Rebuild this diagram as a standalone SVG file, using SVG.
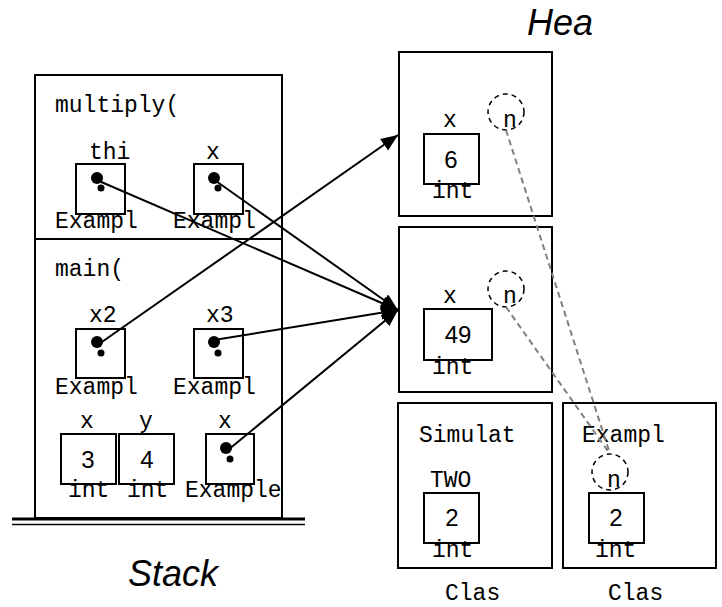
<svg xmlns="http://www.w3.org/2000/svg" width="722" height="607" viewBox="0 0 722 607">
<style>
.box{fill:none;stroke:#000;stroke-width:2}
.mono{font-family:"Liberation Mono","Courier New",monospace;font-size:23px;fill:#000}
.num{font-family:"Liberation Sans",Arial,sans-serif;font-size:24px;fill:#000;text-anchor:middle}
.title{font-family:"Liberation Sans",Arial,sans-serif;font-size:36px;font-style:italic;fill:#000}
.ptr{stroke:#000;stroke-width:2;fill:none;marker-end:url(#ah)}
.ref{stroke:#808080;stroke-width:2;stroke-dasharray:6,4;fill:none}
.circ{fill:none;stroke:#000;stroke-width:1.5;stroke-dasharray:5,4}
</style>
<defs>
<marker id="ah" markerUnits="userSpaceOnUse" markerWidth="18" markerHeight="14" refX="17" refY="7" orient="auto">
<path d="M0,0 L17,7 L0,14 Z" fill="#000"/>
</marker>
</defs>
<rect width="722" height="607" fill="#fff"/>

<g id="stack">
<rect class="box" x="35" y="75" width="247" height="443"/>
<line x1="35" y1="239" x2="282" y2="239" stroke="#000" stroke-width="2"/>
<line x1="12" y1="519" x2="305" y2="519" stroke="#000" stroke-width="3"/>
<line x1="12" y1="524.5" x2="305" y2="524.5" stroke="#000" stroke-width="1.5"/>
<text class="title" x="128" y="586">Stack</text>
</g>

<g id="frame-multiply">
<text class="mono" x="55" y="112">multiply(</text>
</g>
<g id="var-thi">
<text class="mono" x="89" y="159">thi</text>
<rect class="box" x="76" y="164" width="49" height="50"/>
<circle cx="97" cy="178" r="6"/>
<circle cx="101" cy="188" r="3.5"/>
<text class="mono" x="55" y="228">Exampl</text>
</g>
<g id="var-mx">
<text class="mono" x="206" y="159">x</text>
<rect class="box" x="194" y="164" width="49" height="50"/>
<circle cx="214" cy="178" r="6"/>
<circle cx="218" cy="188" r="3.5"/>
<text class="mono" x="173" y="228">Exampl</text>
</g>

<g id="frame-main">
<text class="mono" x="55" y="276">main(</text>
</g>
<g id="var-x2">
<text class="mono" x="89" y="322">x2</text>
<rect class="box" x="76" y="329" width="49" height="49"/>
<circle cx="97" cy="342" r="6"/>
<circle cx="101" cy="353" r="3.5"/>
<text class="mono" x="55" y="394">Exampl</text>
</g>
<g id="var-x3">
<text class="mono" x="206" y="322">x3</text>
<rect class="box" x="194" y="329" width="49" height="49"/>
<circle cx="214" cy="342" r="6"/>
<circle cx="218" cy="353" r="3.5"/>
<text class="mono" x="173" y="394">Exampl</text>
</g>
<g id="var-x">
<text class="mono" x="80" y="428">x</text>
<rect class="box" x="61" y="434" width="55" height="50"/>
<text class="num" x="88" y="468">3</text>
<text class="mono" x="68" y="497">int</text>
</g>
<g id="var-y">
<text class="mono" x="139" y="428">y</text>
<rect class="box" x="119" y="434" width="55" height="50"/>
<text class="num" x="147" y="468">4</text>
<text class="mono" x="127" y="497">int</text>
</g>
<g id="var-xe">
<text class="mono" x="218" y="428">x</text>
<rect class="box" x="206" y="434" width="48" height="50"/>
<circle cx="226" cy="448" r="6"/>
<circle cx="230" cy="459" r="3.5"/>
<text class="mono" x="185" y="497">Example</text>
</g>

<text class="title" x="527" y="35">Hea</text>

<g id="obj1">
<rect class="box" x="399" y="52" width="153" height="164"/>
<text class="mono" x="443" y="127">x</text>
<rect class="box" x="424" y="134" width="55" height="50"/>
<text class="num" x="451" y="168">6</text>
<text class="mono" x="432" y="198">int</text>
<circle class="circ" cx="506" cy="112" r="18"/>
<text class="mono" x="503" y="127">n</text>
</g>

<g id="obj2">
<rect class="box" x="399" y="227" width="153" height="165"/>
<text class="mono" x="443" y="303">x</text>
<rect class="box" x="424" y="309" width="68" height="51"/>
<text class="num" x="458" y="343">49</text>
<text class="mono" x="432" y="374">int</text>
<circle class="circ" cx="506" cy="289" r="18"/>
<text class="mono" x="503" y="303">n</text>
</g>

<g id="class-sim">
<rect class="box" x="398" y="403" width="154" height="165"/>
<text class="mono" x="419" y="442">Simulat</text>
<text class="mono" x="430" y="487">TWO</text>
<rect class="box" x="424" y="493" width="55" height="50"/>
<text class="num" x="452" y="526">2</text>
<text class="mono" x="432" y="557">int</text>
<text class="mono" x="445" y="600">Clas</text>
</g>

<g id="class-ex">
<rect class="box" x="563" y="403" width="153" height="165"/>
<text class="mono" x="582" y="442">Exampl</text>
<circle class="circ" cx="610" cy="472" r="18"/>
<text class="mono" x="607" y="487">n</text>
<rect class="box" x="589" y="493" width="55" height="50"/>
<text class="num" x="616" y="526">2</text>
<text class="mono" x="595" y="557">int</text>
<text class="mono" x="608" y="600">Clas</text>
</g>

<g id="connectors">
<line class="ptr" x1="99" y1="181" x2="398" y2="310"/>
<line class="ptr" x1="216" y1="181" x2="398" y2="310"/>
<line class="ptr" x1="99" y1="344" x2="398" y2="135"/>
<line class="ptr" x1="214" y1="340" x2="398" y2="310"/>
<line class="ptr" x1="228" y1="450" x2="398" y2="310"/>
<line class="ref" x1="506" y1="130" x2="610" y2="454"/>
<line class="ref" x1="506" y1="307" x2="610" y2="454"/>
</g>
</svg>
